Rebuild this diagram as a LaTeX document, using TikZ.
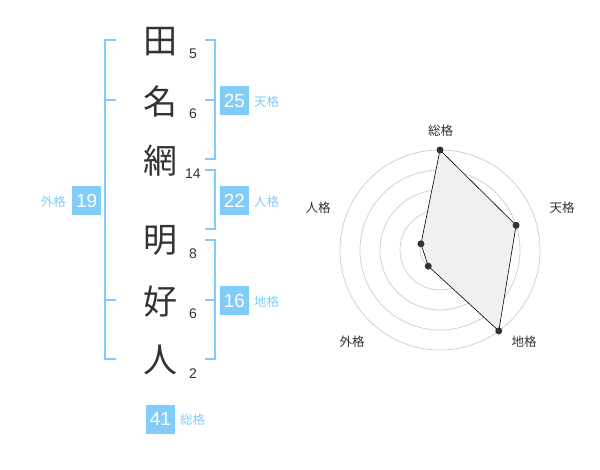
\documentclass[tikz,border=0pt]{standalone}
\usepackage{fontspec}
\usetikzlibrary{calc}
\setmainfont{Liberation Sans}
\newfontfamily\cjk{Noto Sans CJK JP}
\definecolor{sky}{RGB}{130,204,250}
\definecolor{ink}{RGB}{51,51,51}
\definecolor{ringgray}{RGB}{204,204,204}
\definecolor{fillgray}{RGB}{240,240,240}
\tikzset{
  kanji/.style={font=\cjk\fontsize{34}{34}\selectfont, text=ink, inner sep=0pt},
  strokes/.style={font=\fontsize{14}{14}\selectfont, text=ink, inner sep=0pt},
  bracket/.style={draw=sky, line width=2pt},
  numbox/.style={fill=sky, text=white, minimum width=29pt, minimum height=29pt, inner sep=0pt, font=\fontsize{19}{19}\selectfont},
  kaku/.style={text=sky, font=\cjk\fontsize{12.5}{12.5}\selectfont, inner sep=0pt},
  ring/.style={draw=ringgray, line width=0.7pt},
  axlabel/.style={text=ink, font=\cjk\fontsize{12.5}{12.5}\selectfont, inner sep=0pt},
  dot/.style={circle, fill=ink, minimum size=7pt, inner sep=0pt}
}
\begin{document}
\begin{tikzpicture}[x=1pt,y=-1pt]
\useasboundingbox (0,0) rectangle (600,470);
% kanji
\node[kanji] (k1) at (160,42) {田};
\node[kanji] (k2) at (160,102) {名};
\node[kanji] (k3) at (160,161) {網};
\node[kanji] (k4) at (160,240) {明};
\node[kanji] (k5) at (160,302) {好};
\node[kanji] (k6) at (160,360) {人};
% stroke counts
\node[strokes] (s1) at (193,53.5) {5};
\node[strokes] (s2) at (193,113.5) {6};
\node[strokes] (s3) at (193,173.5) {14};
\node[strokes] (s4) at (193,253.5) {8};
\node[strokes] (s5) at (193,313.5) {6};
\node[strokes] (s6) at (193,373.5) {2};
% brackets
\coordinate (ga) at (105,40);
\coordinate (gb) at (105,359);
\draw[bracket] (116,40) -- (ga) -- (gb) -- (116,359);
\draw[bracket] (105,100) -- (116,100);
\draw[bracket] (105,300) -- (116,300);
\draw[bracket] (205,40) -- (215,40) -- (215,159) -- (205,159);
\draw[bracket] (215,100) -- (205,100);
\draw[bracket] (205,170) -- (215,170) -- (215,229) -- (205,229);
\draw[bracket] (205,240) -- (215,240) -- (215,359) -- (205,359);
\draw[bracket] (215,300) -- (205,300);
% boxes
\node[numbox] (b25) at (234.5,100.5) {25};
\node[kaku, anchor=west] (l25) at (254,101.5) {天格};
\node[numbox] (b22) at (234.5,200.5) {22};
\node[kaku, anchor=west] (l22) at (254,201.5) {人格};
\node[numbox] (b16) at (234.5,300.5) {16};
\node[kaku, anchor=west] (l16) at (254,301.5) {地格};
\node[numbox] (b19) at (86.7,200.5) {19};
\node[kaku, anchor=east] (l19) at (66,201.5) {外格};
\node[numbox] (b41) at (160.5,419) {41};
\node[kaku, anchor=west] (l41) at (180,420) {総格};
% radar
\coordinate (c) at (440,250);
\foreach \r in {20,40,60,80,100} \draw[ring] (c) circle[radius=\r pt];
\fill[ringgray] (c) circle[radius=3.5pt];
\coordinate (p1) at ($(c)+(0,-100)$);
\path (c) ++(-18:80) coordinate (p2);
\path (c) ++(54:100) coordinate (p3);
\path (c) ++(126:20) coordinate (p4);
\path (c) ++(198:20) coordinate (p5);
\draw[fill=fillgray, draw=black, line width=0.6pt] (p1) -- (p2) -- (p3) -- (p4) -- (p5) -- cycle;
\foreach \p in {p1,p2,p3,p4,p5} \node[dot] at (\p) {};
\node[axlabel] (a1) at (440.7,130.5) {総格};
\node[axlabel] (a2) at (562,208) {天格};
\node[axlabel] (a3) at (524,342) {地格};
\node[axlabel] (a4) at (352,342) {外格};
\node[axlabel] (a5) at (318,208) {人格};
\end{tikzpicture}
\end{document}
